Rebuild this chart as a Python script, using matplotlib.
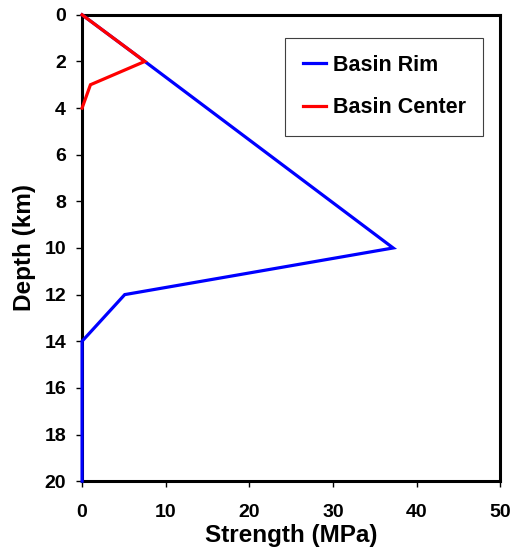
import matplotlib.pyplot as plt

# strength profiles, depth in km, strength in MPa
rim_depth = [0, 2, 10, 12, 14, 20]
rim_strength = [0, 7.5, 37.2, 5.1, 0, 0]

center_depth = [0, 2, 3, 4]
center_strength = [0, 7.5, 1.0, 0]

plt.rcParams['font.family'] = ['Liberation Sans', 'DejaVu Sans']
plt.rcParams['font.weight'] = 'bold'

fig = plt.figure(figsize=(5.13, 5.48), dpi=100)
ax = fig.add_axes([0.160, 0.122, 0.815, 0.851])

ax.plot(rim_strength, rim_depth, color='#0000ff', lw=2.3, label='Basin Rim',
        solid_joinstyle='miter', clip_on=False, zorder=3)
ax.plot(center_strength, center_depth, color='#ff0000', lw=2.3, label='Basin Center',
        solid_joinstyle='miter', clip_on=False, zorder=4)

ax.set_xlim(0, 50)
ax.set_ylim(20, 0)
ax.set_xticks(range(0, 51, 10))
ax.set_yticks(range(0, 21, 2))
ax.tick_params(direction='out', length=4.5, width=1, labelsize=14)
ax.tick_params(axis='x', pad=12)
ax.tick_params(axis='y', pad=7)
for lab in ax.get_xticklabels() + ax.get_yticklabels():
    lab.set_fontweight('bold')
for s in ax.spines.values():
    s.set_linewidth(2.2)
    s.set_zorder(2.5)

ax.set_xlabel('Strength (MPa)', fontsize=17.5, fontweight='bold', labelpad=2)
ax.set_ylabel('Depth (km)', fontsize=17.5, fontweight='bold', labelpad=6)

leg = ax.legend(loc='upper right', bbox_to_anchor=(0.959, 0.951), fontsize=15.5,
                fancybox=False, edgecolor='#404040', framealpha=1,
                handlelength=1.1, handletextpad=0.3, borderpad=0.8,
                labelspacing=1.0, borderaxespad=0)
leg.get_frame().set_linewidth(0.8)
for t in leg.get_texts():
    t.set_fontweight('bold')

fig.savefig('out.png', dpi=100)
